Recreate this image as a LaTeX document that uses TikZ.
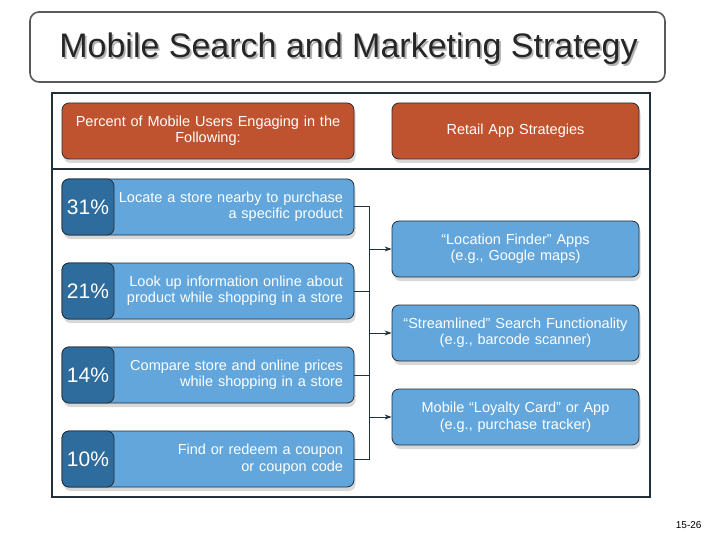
\documentclass[tikz,border=0pt]{standalone}
\usepackage{fontspec}
\setmainfont{Liberation Sans}
\usetikzlibrary{shadows,arrows.meta}
\definecolor{rust}{HTML}{C0532F}
\definecolor{sky}{HTML}{62A6DC}
\definecolor{navy}{HTML}{2D6C9C}
\definecolor{edge}{HTML}{22303C}
\newcommand{\shadowtext}[1]{\makebox[0pt][l]{\hspace{1.8pt}\raisebox{-1.8pt}{\textcolor{black!30}{#1}}}#1}
\begin{document}
\begin{tikzpicture}[x=1pt,y=-1pt,
  card/.style={draw=edge,line width=0.8pt,rounded corners=7pt,text=white,inner ysep=0pt,minimum height=56pt,font=\fontsize{14.5}{16.5}\selectfont},
  shade/.style={drop shadow={shadow xshift=1.5pt,shadow yshift=-4pt,opacity=0.3}},
  head/.style={card,shade,fill=rust,text width=276pt,inner xsep=8pt,align=center},
  act/.style={card,shade,fill=sky,text width=270pt,inner xsep=11pt,align=right},
  pct/.style={card,fill=navy,minimum width=52pt,inner xsep=0pt,font=\fontsize{21}{24}\selectfont},
  app/.style={card,shade,fill=sky,text width=241pt,inner xsep=3pt,align=center},
  wire/.style={edge,line width=1pt}]
  \useasboundingbox[fill=white] (0,0) rectangle (720,540);
  % title
  \draw[black!65,line width=1.6pt,rounded corners=9pt] (30,12) rectangle (665,82);
  \node[font=\fontsize{34}{38}\selectfont,text=black!85] (ttl) at (348.5,50) {\shadowtext{Mobile Search and Marketing Strategy}};
  % frame
  \draw[edge,line width=1.5pt] (52,93) rectangle (650,497);
  \draw[edge,line width=1.5pt] (52,169) -- (650,169);
  % headers
  \node[head] (hdrpct) at (208,131) {Percent of Mobile Users Engaging in the\\Following:};
  \node[app,fill=rust] (hdrapp) at (515.5,131) {Retail App Strategies};
  % left column
  \node[act] (locate) at (208,207) {Locate a store nearby to purchase\\a specific product};
  \node[pct] (p31) at (88,207) {31\%};
  \node[act] (lookup) at (208,291) {Look up information online about\\product while shopping in a store};
  \node[pct] (p21) at (88,291) {21\%};
  \node[act] (compare) at (208,375) {Compare store and online prices\\while shopping in a store};
  \node[pct] (p14) at (88,375) {14\%};
  \node[act] (coupon) at (208,459) {Find or redeem a coupon\\or coupon code};
  \node[pct] (p10) at (88,459) {10\%};
  % right column
  \node[app] (finder) at (515.5,249) {“Location Finder” Apps\\(e.g., Google maps)};
  \node[app] (search) at (515.5,333) {“Streamlined” Search Functionality\\(e.g., barcode scanner)};
  \node[app] (loyalty) at (515.5,417) {Mobile “Loyalty Card” or App\\(e.g., purchase tracker)};
  % connectors
  \coordinate (bus) at (369,0);
  \draw[wire] (locate.east) -- (locate.east -| bus) -- (coupon.east -| bus) -- (coupon.east);
  \draw[wire] (lookup.east) -- (lookup.east -| bus);
  \draw[wire] (compare.east) -- (compare.east -| bus);
  \draw[wire,-{Stealth[length=7pt,width=5pt]}] (finder.west -| bus) -- (finder.west);
  \draw[wire,-{Stealth[length=7pt,width=5pt]}] (search.west -| bus) -- (search.west);
  \draw[wire,-{Stealth[length=7pt,width=5pt]}] (loyalty.west -| bus) -- (loyalty.west);
  % page number
  \node[font=\fontsize{10}{12}\selectfont,anchor=east] (pg) at (705,525) {15-26};
\end{tikzpicture}
\end{document}
